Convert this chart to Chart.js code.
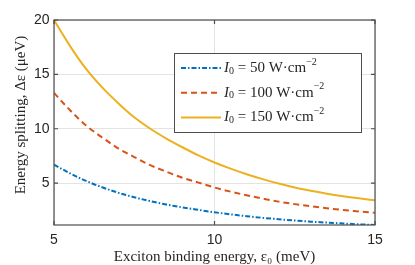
<!DOCTYPE html>
<html>
<head>
<meta charset="utf-8">
<script src="https://cdn.jsdelivr.net/npm/chart.js@4.4.1/dist/chart.umd.min.js"></script>
<style>
  html, body { margin: 0; padding: 0; background: #fff; }
  canvas { display: block; }
</style>
</head>
<body>
<canvas id="chart" width="415" height="265"></canvas>
<script>
// exciton binding energy (meV)
const bindingEnergy = [5, 5.5, 6, 6.5, 7, 7.5, 8, 8.5, 9, 9.5, 10, 10.5, 11, 11.5, 12, 12.5, 13, 13.5, 14, 14.5, 15];

// energy splitting (ueV)
const splitting50 = [6.7, 5.9, 5.2, 4.62, 4.12, 3.7, 3.34, 3.03, 2.77, 2.54, 2.32, 2.13, 1.96, 1.81, 1.68, 1.56, 1.46, 1.37, 1.29, 1.21, 1.15];
const splitting100 = [13.3, 11.7, 10.3, 9.2, 8.2, 7.4, 6.65, 6.05, 5.5, 5.05, 4.6, 4.22, 3.88, 3.58, 3.3, 3.07, 2.87, 2.69, 2.53, 2.4, 2.27];
const splitting150 = [20.0, 17.6, 15.5, 13.8, 12.35, 11.05, 10.0, 9.1, 8.3, 7.55, 6.9, 6.33, 5.82, 5.37, 4.96, 4.6, 4.3, 4.03, 3.8, 3.6, 3.42];

const intensities = [50, 100, 150];
const xTicks = [5, 10, 15];
const yTicks = [5, 10, 15, 20];

const lineColors = ["#0072BD", "#D95319", "#EDB120"];
const dashPatterns = [[5, 2, 1.5, 2], [6, 4], []];

const seriesList = [splitting50, splitting100, splitting150];

const datasets = seriesList.map((values, i) => ({
  label: "I0 = " + intensities[i] + " W·cm−2",
  data: values.map((v, k) => ({ x: bindingEnergy[k], y: v })),
  borderColor: lineColors[i],
  borderDash: dashPatterns[i],
  borderWidth: 2,
  pointRadius: 0,
  fill: false,
  cubicInterpolationMode: "monotone",
}));

const axisColor = "#4d4d4d";
const textColor = "#262626";
const serif = "'Liberation Serif', serif";

// box round the plot and MATLAB-like inward tick marks
const framePlugin = {
  id: "frame",
  afterDatasetsDraw(chart) {
    const { ctx, chartArea, scales } = chart;
    const { left, top, right, bottom } = chartArea;
    ctx.save();
    ctx.strokeStyle = axisColor;
    ctx.lineWidth = 1.2;
    ctx.strokeRect(left, top, right - left, bottom - top);
    ctx.beginPath();
    xTicks.forEach((v) => {
      const px = scales.x.getPixelForValue(v);
      ctx.moveTo(px, bottom); ctx.lineTo(px, bottom - 4);
      ctx.moveTo(px, top); ctx.lineTo(px, top + 4);
    });
    yTicks.forEach((v) => {
      const py = scales.y.getPixelForValue(v);
      ctx.moveTo(left, py); ctx.lineTo(left + 4, py);
      ctx.moveTo(right, py); ctx.lineTo(right - 4, py);
    });
    ctx.stroke();
    ctx.restore();
  },
};

// draw a run of text pieces with their own font and vertical shift
const drawPieces = (ctx, x, y, pieces) => {
  pieces.forEach(({ t, f, dy = 0 }) => {
    ctx.font = f;
    ctx.fillText(t, x, y + dy);
    x += ctx.measureText(t).width;
  });
};

const legendPlugin = {
  id: "boxLegend",
  afterDraw(chart) {
    const { ctx, chartArea } = chart;
    const bx = chartArea.left + 120;
    const by = chartArea.top + 33;
    const bw = 187;
    const bh = 79;
    ctx.save();
    ctx.fillStyle = "#fff";
    ctx.fillRect(bx, by, bw, bh);
    ctx.strokeStyle = axisColor;
    ctx.lineWidth = 1;
    ctx.strokeRect(bx + 0.5, by + 0.5, bw, bh);

    chart.data.datasets.forEach((ds, i) => {
      const ly = by + 15 + i * 24.7;
      ctx.beginPath();
      ctx.strokeStyle = ds.borderColor;
      ctx.lineWidth = 2;
      ctx.setLineDash(ds.borderDash);
      ctx.moveTo(bx + 7, ly);
      ctx.lineTo(bx + 47, ly);
      ctx.stroke();
      ctx.setLineDash([]);

      ctx.fillStyle = textColor;
      ctx.textBaseline = "middle";
      drawPieces(ctx, bx + 50, ly, [
        { t: "I", f: "italic 15px " + serif },
        { t: "0", f: "10px " + serif, dy: 3 },
        { t: " = " + intensities[i] + " W·cm", f: "15px " + serif },
        { t: "−2", f: "10px " + serif, dy: -6 },
      ]);
    });
    ctx.restore();
  },
};

new Chart(document.getElementById("chart"), {
  type: "line",
  data: { datasets },
  options: {
    responsive: false,
    devicePixelRatio: 1,
    animation: false,
    layout: { padding: { top: 20, right: 40, left: 0, bottom: 0 } },
    plugins: { legend: { display: false }, tooltip: { enabled: false } },
    scales: {
      x: {
        type: "linear",
        min: 5,
        max: 15,
        afterBuildTicks: (scale) => { scale.ticks = xTicks.map((v) => ({ value: v })); },
        afterFit: (scale) => { scale.height = 40; },
        grid: { color: "#e3e3e3", drawTicks: false },
        border: { display: false },
        ticks: {
          padding: 6.5,
          color: textColor,
          font: { family: "'Liberation Sans', sans-serif", size: 14 },
        },
        title: {
          display: true,
          text: "Exciton binding energy, ε₀ (meV)",
          color: textColor,
          font: { family: serif, size: 15, lineHeight: 1 },
          padding: { top: 0, bottom: 0 },
        },
      },
      y: {
        type: "linear",
        min: 1.15,
        max: 20,
        afterBuildTicks: (scale) => { scale.ticks = yTicks.map((v) => ({ value: v })); },
        afterFit: (scale) => { scale.width = 54; },
        grid: { color: "#e3e3e3", drawTicks: false },
        border: { display: false },
        ticks: {
          padding: 4.5,
          color: textColor,
          font: { family: "'Liberation Sans', sans-serif", size: 14 },
        },
        title: {
          display: true,
          // leading spaces lift the label a little, as in the original
          text: "    Energy splitting, Δε (μeV)",
          color: textColor,
          font: { family: serif, size: 15, lineHeight: 1 },
          padding: { top: 14, bottom: 0 },
        },
      },
    },
  },
  plugins: [framePlugin, legendPlugin],
});
</script>
</body>
</html>
